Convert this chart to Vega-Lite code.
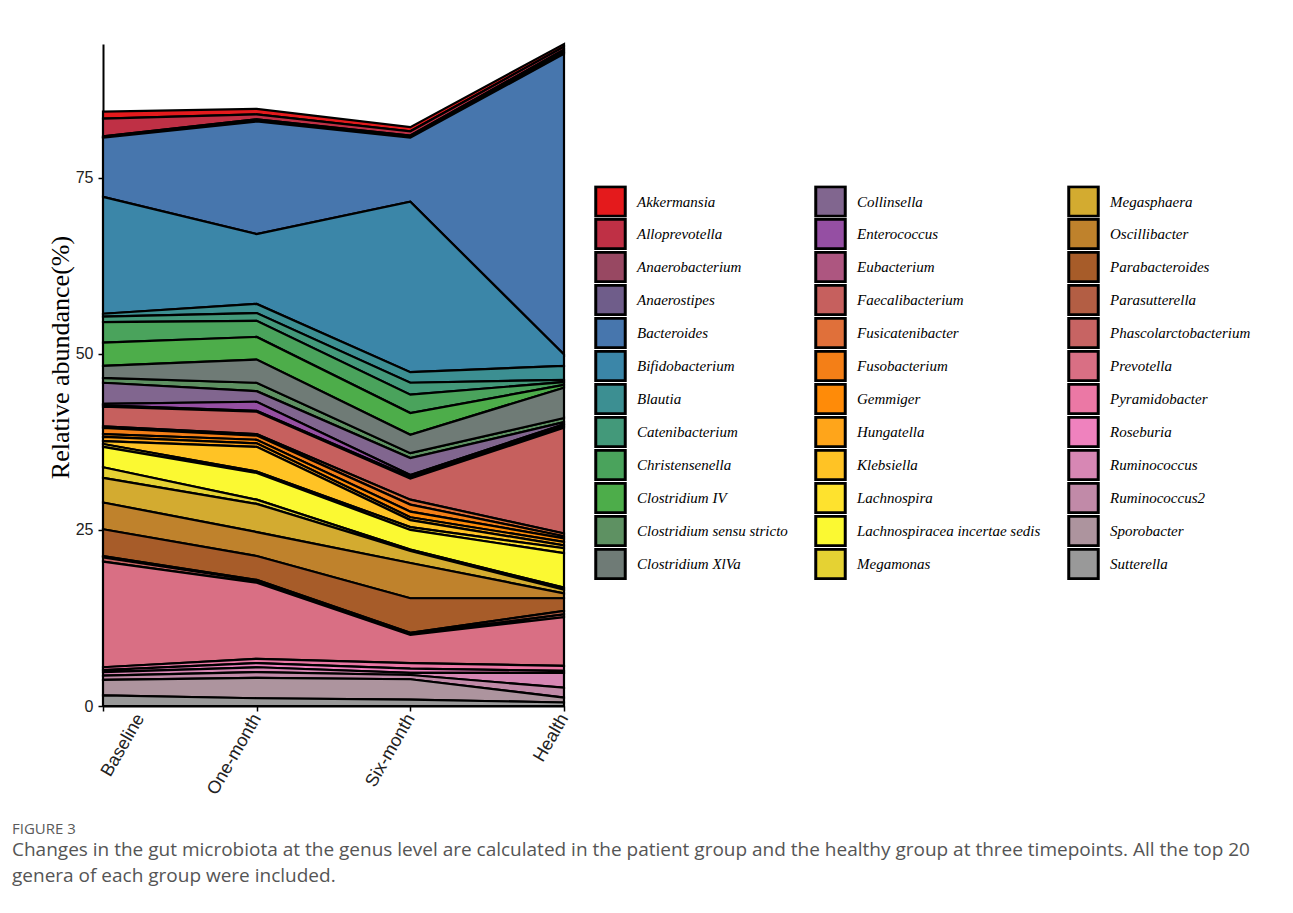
{
"$schema": "https://vega.github.io/schema/vega-lite/v6.json",
"width": 461, "height": 662,
"autosize": {"type": "none"},
"padding": {"left": 103, "top": 44, "right": 729, "bottom": 207},
"background": "white",
"config": {"view": {"stroke": null}},
"title": {
 "text": "FIGURE 3",
 "subtitle": ["Changes in the gut microbiota at the genus level are calculated in the patient group and the healthy group at three timepoints. All the top 20", "genera of each group were included."],
 "orient": "bottom", "anchor": "start", "frame": "group", "dx": -91, "offset": 25,
 "font": "Open Sans", "fontSize": 15, "fontWeight": "normal", "color": "#5a5a5a",
 "subtitleFont": "Open Sans", "subtitleFontSize": 19, "subtitleColor": "#555555", "subtitleLineHeight": 26, "subtitlePadding": 4
},
"datasets": {"abund": [
{"genus":"Akkermansia","time":"Baseline","value":1.0},{"genus":"Akkermansia","time":"One-month","value":0.8},{"genus":"Akkermansia","time":"Six-month","value":0.6},{"genus":"Akkermansia","time":"Health","value":0.4},
{"genus":"Alloprevotella","time":"Baseline","value":2.5},{"genus":"Alloprevotella","time":"One-month","value":0.7},{"genus":"Alloprevotella","time":"Six-month","value":0.6},{"genus":"Alloprevotella","time":"Health","value":0.4},
{"genus":"Anaerobacterium","time":"Baseline","value":0.1},{"genus":"Anaerobacterium","time":"One-month","value":0.2},{"genus":"Anaerobacterium","time":"Six-month","value":0.2},{"genus":"Anaerobacterium","time":"Health","value":0.3},
{"genus":"Anaerostipes","time":"Baseline","value":0.1},{"genus":"Anaerostipes","time":"One-month","value":0.1},{"genus":"Anaerostipes","time":"Six-month","value":0.1},{"genus":"Anaerostipes","time":"Health","value":0.3},
{"genus":"Bacteroides","time":"Baseline","value":8.4},{"genus":"Bacteroides","time":"One-month","value":16.0},{"genus":"Bacteroides","time":"Six-month","value":9.1},{"genus":"Bacteroides","time":"Health","value":42.7},
{"genus":"Bifidobacterium","time":"Baseline","value":16.6},{"genus":"Bifidobacterium","time":"One-month","value":9.9},{"genus":"Bifidobacterium","time":"Six-month","value":24.2},{"genus":"Bifidobacterium","time":"Health","value":1.6},
{"genus":"Blautia","time":"Baseline","value":0.4},{"genus":"Blautia","time":"One-month","value":1.3},{"genus":"Blautia","time":"Six-month","value":1.5},{"genus":"Blautia","time":"Health","value":2.0},
{"genus":"Catenibacterium","time":"Baseline","value":0.8},{"genus":"Catenibacterium","time":"One-month","value":1.1},{"genus":"Catenibacterium","time":"Six-month","value":1.7},{"genus":"Catenibacterium","time":"Health","value":0.3},
{"genus":"Christensenella","time":"Baseline","value":2.9},{"genus":"Christensenella","time":"One-month","value":2.3},{"genus":"Christensenella","time":"Six-month","value":2.6},{"genus":"Christensenella","time":"Health","value":0.4},
{"genus":"Clostridium IV","time":"Baseline","value":3.3},{"genus":"Clostridium IV","time":"One-month","value":3.2},{"genus":"Clostridium IV","time":"Six-month","value":3.1},{"genus":"Clostridium IV","time":"Health","value":0.4},
{"genus":"Clostridium sensu stricto","time":"Baseline","value":0.7},{"genus":"Clostridium sensu stricto","time":"One-month","value":1.2},{"genus":"Clostridium sensu stricto","time":"Six-month","value":0.7},{"genus":"Clostridium sensu stricto","time":"Health","value":0.6},
{"genus":"Clostridium XlVa","time":"Baseline","value":1.7},{"genus":"Clostridium XlVa","time":"One-month","value":3.3},{"genus":"Clostridium XlVa","time":"Six-month","value":2.6},{"genus":"Clostridium XlVa","time":"Health","value":4.3},
{"genus":"Collinsella","time":"Baseline","value":3.0},{"genus":"Collinsella","time":"One-month","value":1.5},{"genus":"Collinsella","time":"Six-month","value":2.4},{"genus":"Collinsella","time":"Health","value":0.3},
{"genus":"Enterococcus","time":"Baseline","value":0.2},{"genus":"Enterococcus","time":"One-month","value":1.3},{"genus":"Enterococcus","time":"Six-month","value":0.3},{"genus":"Enterococcus","time":"Health","value":0.2},
{"genus":"Eubacterium","time":"Baseline","value":0.2},{"genus":"Eubacterium","time":"One-month","value":0.1},{"genus":"Eubacterium","time":"Six-month","value":0.2},{"genus":"Eubacterium","time":"Health","value":0.3},
{"genus":"Faecalibacterium","time":"Baseline","value":2.8},{"genus":"Faecalibacterium","time":"One-month","value":3.2},{"genus":"Faecalibacterium","time":"Six-month","value":3.0},{"genus":"Faecalibacterium","time":"Health","value":15.0},
{"genus":"Fusicatenibacter","time":"Baseline","value":0.2},{"genus":"Fusicatenibacter","time":"One-month","value":0.2},{"genus":"Fusicatenibacter","time":"Six-month","value":0.7},{"genus":"Fusicatenibacter","time":"Health","value":0.4},
{"genus":"Fusobacterium","time":"Baseline","value":0.9},{"genus":"Fusobacterium","time":"One-month","value":0.6},{"genus":"Fusobacterium","time":"Six-month","value":1.0},{"genus":"Fusobacterium","time":"Health","value":0.3},
{"genus":"Gemmiger","time":"Baseline","value":0.4},{"genus":"Gemmiger","time":"One-month","value":0.5},{"genus":"Gemmiger","time":"Six-month","value":0.8},{"genus":"Gemmiger","time":"Health","value":0.5},
{"genus":"Hungatella","time":"Baseline","value":0.6},{"genus":"Hungatella","time":"One-month","value":0.5},{"genus":"Hungatella","time":"Six-month","value":0.4},{"genus":"Hungatella","time":"Health","value":0.5},
{"genus":"Klebsiella","time":"Baseline","value":0.4},{"genus":"Klebsiella","time":"One-month","value":3.5},{"genus":"Klebsiella","time":"Six-month","value":1.0},{"genus":"Klebsiella","time":"Health","value":0.4},
{"genus":"Lachnospira","time":"Baseline","value":0.4},{"genus":"Lachnospira","time":"One-month","value":0.2},{"genus":"Lachnospira","time":"Six-month","value":0.4},{"genus":"Lachnospira","time":"Health","value":0.7},
{"genus":"Lachnospiracea incertae sedis","time":"Baseline","value":2.9},{"genus":"Lachnospiracea incertae sedis","time":"One-month","value":3.8},{"genus":"Lachnospiracea incertae sedis","time":"Six-month","value":2.8},{"genus":"Lachnospiracea incertae sedis","time":"Health","value":4.9},
{"genus":"Megamonas","time":"Baseline","value":1.5},{"genus":"Megamonas","time":"One-month","value":0.6},{"genus":"Megamonas","time":"Six-month","value":0.2},{"genus":"Megamonas","time":"Health","value":0.3},
{"genus":"Megasphaera","time":"Baseline","value":3.5},{"genus":"Megasphaera","time":"One-month","value":4.0},{"genus":"Megasphaera","time":"Six-month","value":1.7},{"genus":"Megasphaera","time":"Health","value":0.5},
{"genus":"Oscillibacter","time":"Baseline","value":3.8},{"genus":"Oscillibacter","time":"One-month","value":3.4},{"genus":"Oscillibacter","time":"Six-month","value":5.0},{"genus":"Oscillibacter","time":"Health","value":0.7},
{"genus":"Parabacteroides","time":"Baseline","value":3.8},{"genus":"Parabacteroides","time":"One-month","value":3.4},{"genus":"Parabacteroides","time":"Six-month","value":4.9},{"genus":"Parabacteroides","time":"Health","value":1.8},
{"genus":"Parasutterella","time":"Baseline","value":0.2},{"genus":"Parasutterella","time":"One-month","value":0.1},{"genus":"Parasutterella","time":"Six-month","value":0.2},{"genus":"Parasutterella","time":"Health","value":0.5},
{"genus":"Phascolarctobacterium","time":"Baseline","value":0.6},{"genus":"Phascolarctobacterium","time":"One-month","value":0.3},{"genus":"Phascolarctobacterium","time":"Six-month","value":0.1},{"genus":"Phascolarctobacterium","time":"Health","value":0.4},
{"genus":"Prevotella","time":"Baseline","value":15.0},{"genus":"Prevotella","time":"One-month","value":10.8},{"genus":"Prevotella","time":"Six-month","value":4.0},{"genus":"Prevotella","time":"Health","value":6.9},
{"genus":"Pyramidobacter","time":"Baseline","value":0.4},{"genus":"Pyramidobacter","time":"One-month","value":0.6},{"genus":"Pyramidobacter","time":"Six-month","value":0.8},{"genus":"Pyramidobacter","time":"Health","value":0.7},
{"genus":"Roseburia","time":"Baseline","value":0.3},{"genus":"Roseburia","time":"One-month","value":0.6},{"genus":"Roseburia","time":"Six-month","value":0.6},{"genus":"Roseburia","time":"Health","value":0.3},
{"genus":"Ruminococcus","time":"Baseline","value":0.5},{"genus":"Ruminococcus","time":"One-month","value":0.7},{"genus":"Ruminococcus","time":"Six-month","value":0.3},{"genus":"Ruminococcus","time":"Health","value":2.1},
{"genus":"Ruminococcus2","time":"Baseline","value":0.6},{"genus":"Ruminococcus2","time":"One-month","value":0.8},{"genus":"Ruminococcus2","time":"Six-month","value":0.6},{"genus":"Ruminococcus2","time":"Health","value":1.4},
{"genus":"Sporobacter","time":"Baseline","value":2.2},{"genus":"Sporobacter","time":"One-month","value":2.9},{"genus":"Sporobacter","time":"Six-month","value":2.9},{"genus":"Sporobacter","time":"Health","value":0.7},
{"genus":"Sutterella","time":"Baseline","value":1.5},{"genus":"Sutterella","time":"One-month","value":1.1},{"genus":"Sutterella","time":"Six-month","value":0.9},{"genus":"Sutterella","time":"Health","value":0.5}
]},
"data": {"name": "abund"},
"mark": {"type": "area", "stroke": "black", "strokeWidth": 2.2, "opacity": 1, "fillOpacity": 1},
"encoding": {
 "x": {"field": "time", "type": "ordinal", "sort": ["Baseline", "One-month", "Six-month", "Health"],
  "scale": {"type": "point", "padding": 0},
  "axis": {"title": null, "labelAngle": -60, "labelAlign": "right", "labelBaseline": "middle", "labelFont": "Liberation Sans", "labelFontSize": 18, "labelColor": "#222222", "labelPadding": 4,
   "labelOffset": {"condition": {"test": "datum.value === 'Baseline'", "value": 37}, "value": 0},
   "tickSize": 5, "tickColor": "black", "tickWidth": 1.5, "domainColor": "black", "domainWidth": 2, "grid": false}},
 "y": {"field": "value", "type": "quantitative", "stack": "zero",
  "scale": {"domain": [0, 94], "nice": false, "zero": true},
  "axis": {"values": [0, 25, 50, 75], "title": "Relative abundance(%)", "titleFont": "Liberation Serif", "titleFontSize": 26, "titleFontWeight": "normal", "titleColor": "black", "titleX": -30, "titleY": 313, "labelFont": "Liberation Sans", "labelFontSize": 16, "labelColor": "#222222", "labelPadding": 5, "tickSize": 5, "tickColor": "black", "tickWidth": 1.5, "domainColor": "black", "domainWidth": 2, "grid": false}},
 "color": {"field": "genus", "type": "nominal",
  "scale": {"domain": ["Akkermansia", "Alloprevotella", "Anaerobacterium", "Anaerostipes", "Bacteroides", "Bifidobacterium", "Blautia", "Catenibacterium", "Christensenella", "Clostridium IV", "Clostridium sensu stricto", "Clostridium XlVa", "Collinsella", "Enterococcus", "Eubacterium", "Faecalibacterium", "Fusicatenibacter", "Fusobacterium", "Gemmiger", "Hungatella", "Klebsiella", "Lachnospira", "Lachnospiracea incertae sedis", "Megamonas", "Megasphaera", "Oscillibacter", "Parabacteroides", "Parasutterella", "Phascolarctobacterium", "Prevotella", "Pyramidobacter", "Roseburia", "Ruminococcus", "Ruminococcus2", "Sporobacter", "Sutterella"],
   "range": ["#E41A1C", "#BF3045", "#984862", "#6F5D8A", "#4776AD", "#3B86A8", "#3C8F92", "#43997A", "#4AA35C", "#4DAD4A", "#5E9162", "#6F7B76", "#81668F", "#954FA3", "#AD5680", "#C6605E", "#E0703A", "#F47F17", "#FF8B08", "#FFA51A", "#FFC325", "#FEE22E", "#FBF932", "#E5D233", "#D3AB30", "#BF822C", "#A75C29", "#B35E44", "#C76463", "#D96F84", "#EB78A5", "#EF82BE", "#D787B4", "#C18AA8", "#AD949E", "#999999"]},
  "legend": {"orient": "none", "legendX": 491, "legendY": 141, "columns": 3, "title": null, "symbolLimit": 50, "symbolType": "square", "symbolSize": 870, "symbolStrokeColor": "black", "symbolStrokeWidth": 3, "symbolOpacity": 1, "labelFont": "Liberation Serif", "labelFontStyle": "italic", "labelFontSize": 15, "labelColor": "black", "labelOffset": 10, "clipHeight": 32.1, "rowPadding": 0, "columnPadding": 26, "labelLimit": 400}},
 "order": {"field": "genus", "sort": "descending"}
}
}
